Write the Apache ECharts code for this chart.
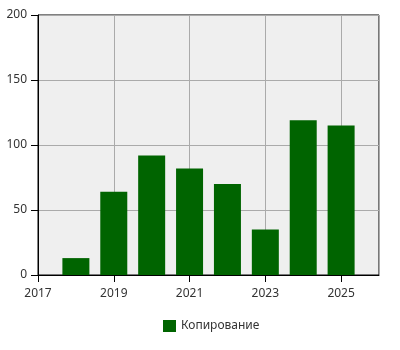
<!DOCTYPE html>
<html>
<head>
<meta charset="utf-8">
<script src="https://cdn.jsdelivr.net/npm/echarts@6/dist/echarts.min.js"></script>
<style>html,body{margin:0;padding:0;background:#fff}#c{width:400px;height:350px}</style>
</head>
<body>
<div id="c"></div>
<script>
const years = [2018, 2019, 2020, 2021, 2022, 2023, 2024, 2025];
const values = [13, 64, 92, 82, 70, 35, 119, 115];
const seriesName = 'Копирование';
const yTicks = {min: 0, max: 200, interval: 50};
const xTicks = {min: 2017, max: 2026, interval: 2};

const chart = echarts.init(document.getElementById('c'), null, {renderer: 'canvas'});
const font = 'Noto Sans';
chart.setOption({
  animation: false,
  grid: {left: 38, right: 21, top: 15, bottom: 75, show: true, backgroundColor: '#efefef', borderColor: '#000', borderWidth: 1},
  legend: {
    top: 320, left: 163, padding: 0, icon: 'rect', itemWidth: 13, itemHeight: 12, itemGap: 10,
    textStyle: {color: '#333', fontFamily: font, fontSize: 12},
    data: [seriesName]
  },
  xAxis: {
    type: 'value', min: xTicks.min, max: xTicks.max, interval: xTicks.interval,
    axisLine: {show: true, lineStyle: {color: '#000', width: 1}},
    axisTick: {show: true, length: 7, lineStyle: {color: '#000'}},
    axisLabel: {color: '#333', fontFamily: font, fontSize: 12, margin: 13, showMaxLabel: false, formatter: v => String(v)},
    splitLine: {show: true, lineStyle: {color: '#aaa', width: 1}}
  },
  yAxis: {
    type: 'value', min: yTicks.min, max: yTicks.max, interval: yTicks.interval,
    axisLine: {show: true, lineStyle: {color: '#000', width: 1}},
    axisTick: {show: true, length: 7, lineStyle: {color: '#000'}},
    axisLabel: {color: '#333', fontFamily: font, fontSize: 12, margin: 11},
    splitLine: {show: true, lineStyle: {color: '#aaa', width: 1}}
  },
  series: [{
    name: seriesName, type: 'bar', barWidth: 27,
    itemStyle: {color: '#006400'},
    data: years.map((y, i) => [y, values[i]])
  }]
});
</script>
</body>
</html>
